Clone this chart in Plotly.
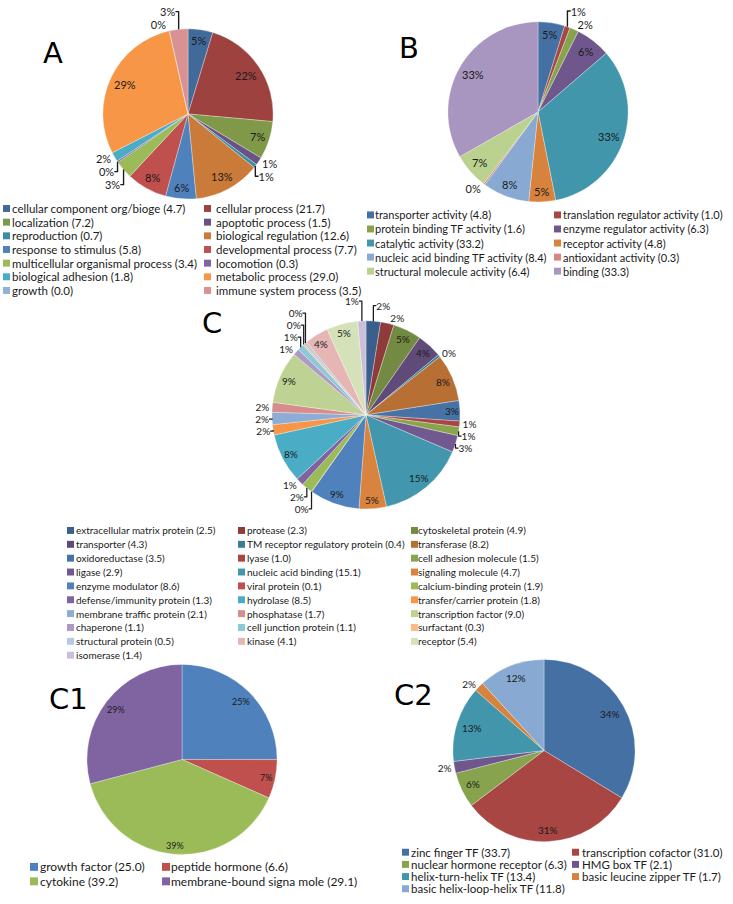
import math
import plotly.graph_objects as go

W, H = 733, 904

# ---------------- data ----------------
A_labels = ["cellular component org/bioge", "cellular process", "localization", "apoptotic process",
            "reproduction", "biological regulation", "response to stimulus", "developmental process",
            "multicellular organismal process", "locomotion", "biological adhesion", "metabolic process",
            "growth", "immune system process"]
A_values = [4.7, 21.7, 7.2, 1.5, 0.7, 12.6, 5.8, 7.7, 3.4, 0.3, 1.8, 29.0, 0.0, 3.5]
A_pct = ["5%", "22%", "7%", "1%", "1%", "13%", "6%", "8%", "3%", "0%", "2%", "29%", "0%", "3%"]

B_labels = ["transporter activity", "translation regulator activity", "protein binding TF activity",
            "enzyme regulator activity", "catalytic activity", "receptor activity",
            "nucleic acid binding TF activity", "antioxidant activity", "structural molecule activity", "binding"]
B_values = [4.8, 1.0, 1.6, 6.3, 33.2, 4.8, 8.4, 0.3, 6.4, 33.3]
B_pct = ["5%", "1%", "2%", "6%", "33%", "5%", "8%", "0%", "7%", "33%"]

C_labels = ["extracellular matrix protein", "protease", "cytoskeletal protein", "transporter",
            "TM receptor regulatory protein", "transferase", "oxidoreductase", "lyase",
            "cell adhesion molecule", "ligase", "nucleic acid binding", "signaling molecule",
            "enzyme modulator", "viral protein", "calcium-binding protein", "defense/immunity protein",
            "hydrolase", "transfer/carrier protein", "membrane traffic protein", "phosphatase",
            "transcription factor", "chaperone", "cell junction protein", "surfactant",
            "structural protein", "kinase", "receptor", "isomerase"]
C_values = [2.5, 2.3, 4.9, 4.3, 0.4, 8.2, 3.5, 1.0, 1.5, 2.9, 15.1, 4.7, 8.6, 0.1, 1.9, 1.3,
            8.5, 1.8, 2.1, 1.7, 9.0, 1.1, 1.1, 0.3, 0.5, 4.1, 5.4, 1.4]
C_pct = ["2%", "2%", "5%", "4%", "0%", "8%", "3%", "1%", "1%", "3%", "15%", "5%", "9%", "0%",
         "2%", "1%", "8%", "2%", "2%", "2%", "9%", "1%", "1%", "0%", "0%", "4%", "5%", "1%"]

C1_labels = ["growth factor", "peptide hormone", "cytokine", "membrane-bound signa mole"]
C1_values = [25.0, 6.6, 39.2, 29.1]
C1_pct = ["25%", "7%", "39%", "29%"]

C2_labels = ["zinc finger TF", "transcription cofactor", "nuclear hormone receptor", "HMG box TF",
             "helix-turn-helix TF", "basic leucine zipper TF", "basic helix-loop-helix TF"]
C2_values = [33.7, 31.0, 6.3, 2.1, 13.4, 1.7, 11.8]
C2_pct = ["34%", "31%", "6%", "2%", "13%", "2%", "12%"]

# ---------------- styles ----------------
BASE = ["#4F81BD", "#C0504D", "#9BBB59", "#8064A2", "#4BACC6", "#F79646"]
VARIATIONS = {
    1: [("b", 0)],
    2: [("s", 0.87), ("t", 0.32)],
    3: [("s", 0.82), ("b", 0), ("t", 0.38)],
    5: [("s", 0.74), ("s", 0.88), ("b", 0), ("t", 0.35), ("t", 0.58)],
}


def _rgb(h):
    h = h.lstrip("#")
    return [int(h[i:i + 2], 16) for i in (0, 2, 4)]


def vary(h, kind, f):
    r = _rgb(h)
    if kind == "s":
        r = [c * f for c in r]
    elif kind == "t":
        r = [c + (255 - c) * f for c in r]
    return "#%02X%02X%02X" % tuple(int(round(c)) for c in r)


def excel_colors(n):
    cyc = math.ceil(n / 6)
    var = VARIATIONS[cyc]
    return [vary(BASE[i % 6], *var[i // 6]) for i in range(n)]


def px(x):
    return x / W


def py(y):
    return 1 - y / H


def dom(cx, cy, r):
    return dict(x=[px(cx - r), px(cx + r)], y=[py(cy + r), py(cy - r)])


TXT = "#1a1a1a"
LFONT = "Lato, Liberation Sans, sans-serif"

fig = go.Figure()
shapes = []
annotations = []


def add_pie(labels, values, pct, cx, cy, r, outside, fsize, margin=5):
    n = len(labels)
    fig.add_trace(go.Pie(
        labels=labels, values=values, text=pct, texttemplate="%{text}",
        sort=False, direction="clockwise", rotation=0,
        marker=dict(colors=excel_colors(n), line=dict(color="rgba(255,255,255,0.6)", width=0.5)),
        textposition=["outside" if i in outside else "none" for i in range(n)],
        textfont=dict(family=LFONT, size=fsize, color=TXT),
        outsidetextfont=dict(family=LFONT, size=fsize, color=TXT),
        domain=dom(cx, cy, r), showlegend=False, hoverinfo="label+value+percent",
    ))
    # inside labels, horizontal, placed near the rim like the spreadsheet's "best fit"
    total = sum(values)
    cum = 0.0
    for i, (v, t) in enumerate(zip(values, pct)):
        mid = (cum + v / 2) / total * 2 * math.pi
        cum += v
        if i in outside:
            continue
        s, c = math.sin(mid), math.cos(mid)
        w = len(t) * fsize * 0.6
        h = fsize * 1.0
        R = r - margin - (w / 2 * abs(s) + h / 2 * abs(c))
        annotations.append(dict(text=t, x=px(cx + R * s), y=py(cy - R * c), xref="paper", yref="paper",
                                xanchor="center", yanchor="middle", showarrow=False,
                                font=dict(family=LFONT, size=fsize, color=TXT)))


def add_legend(labels, values, xm_cols, xt_cols, y0, dy, fsize, ms):
    colors = excel_colors(len(labels))
    ncol = len(xt_cols)
    for i, (lab, v, c) in enumerate(zip(labels, values, colors)):
        row, col = divmod(i, ncol)
        y = y0 + row * dy
        xm = xm_cols[col]
        shapes.append(dict(type="rect", xref="paper", yref="paper",
                           x0=px(xm), x1=px(xm + ms), y0=py(y + ms / 2), y1=py(y - ms / 2),
                           fillcolor=c, line=dict(width=0)))
        annotations.append(dict(text=f"{lab} ({v:.1f})", x=px(xt_cols[col] - 2), y=py(y),
                                xref="paper", yref="paper", xanchor="left", yanchor="middle",
                                showarrow=False, font=dict(family=LFONT, size=fsize, color=TXT)))


# pies
add_pie(A_labels, A_values, A_pct, 188, 106, 86, {3, 4, 8, 9, 10, 12, 13}, 11)
add_pie(B_labels, B_values, B_pct, 538, 104, 91, {1, 2, 7}, 11)
add_pie(C_labels, C_values, C_pct, 366, 410, 95,
        {0, 1, 4, 7, 8, 9, 13, 14, 15, 17, 18, 19, 21, 22, 23, 24, 27}, 10, margin=3)
add_pie(C1_labels, C1_values, C1_pct, 182, 758, 96, set(), 9, margin=4)
add_pie(C2_labels, C2_values, C2_pct, 544, 749, 92, {3, 5}, 10, margin=6)

# legends
add_legend(A_labels, A_values, [3, 204], [12, 216], 201.5, 13.8, 11.5, 7)
add_legend(B_labels, B_values, [367, 554], [375, 563], 208, 14.2, 11, 7)
add_legend(C_labels, C_values, [67, 238, 411], [76, 247, 418], 526.7, 14.0, 10, 7)
add_legend(C1_labels, C1_values, [30, 162], [40, 171], 866.5, 14.6, 12, 8)
add_legend(C2_labels, C2_values, [402, 572], [411, 582], 851.7, 12.3, 11.5, 7)

# panel letters
for t, x, y in [("A", 53, 44), ("B", 409, 39), ("C", 212, 317), ("C1", 68, 697), ("C2", 413, 693)]:
    annotations.append(dict(text=t, x=px(x), y=py(y), xref="paper", yref="paper",
                            xanchor="center", yanchor="middle", showarrow=False,
                            font=dict(family="DejaVu Sans, sans-serif", size=29, color="#000")))

fig.update_layout(width=W, height=H, margin=dict(l=0, r=0, t=0, b=0),
                  paper_bgcolor="white", plot_bgcolor="white", showlegend=False,
                  shapes=shapes, annotations=annotations)

# remove the browser's default 8px page margin so the figure fills the window exactly
fig.write_html("out.html", config={"displayModeBar": False},
               post_script="document.body.style.margin='0';document.body.style.overflow='hidden';")
